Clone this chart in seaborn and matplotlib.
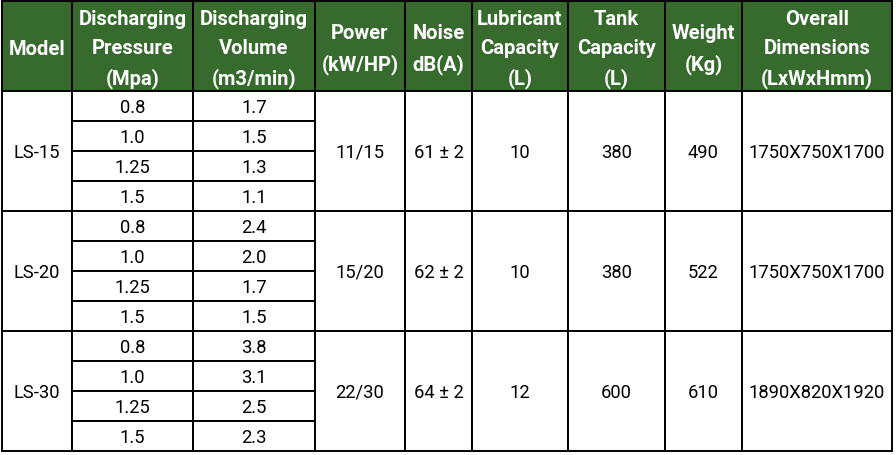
import numpy as np
import matplotlib.pyplot as plt
import seaborn as sns
from matplotlib.patches import Rectangle

sns.set_theme(style="white")
plt.rcParams['font.family'] = ['Roboto', 'DejaVu Sans']

# table contents
headers = ["Model", "Discharging\nPressure\n(Mpa)", "Discharging\nVolume\n(m3/min)",
           "Power\n(kW/HP)", "Noise\ndB(A)", "Lubricant\nCapacity\n(L)",
           "Tank\nCapacity\n(L)", "Weight\n(Kg)", "Overall\nDimensions\n(LxWxHmm)"]
models = ["LS-15", "LS-20", "LS-30"]
pressures = ["0.8", "1.0", "1.25", "1.5"]
volumes = [["1.7", "1.5", "1.3", "1.1"],
           ["2.4", "2.0", "1.7", "1.5"],
           ["3.8", "3.1", "2.5", "2.3"]]
power = ["11/15", "15/20", "22/30"]
noise = ["61 ± 2", "62 ± 2", "64 ± 2"]
lubricant = ["10", "10", "12"]
tank = ["380", "380", "600"]
weight = ["490", "522", "610"]
dims = ["1750X750X1700", "1750X750X1700", "1890X820X1920"]

# layout (pixels)
col_edges = [2, 72, 193, 315, 405, 472, 568, 665, 742, 892]
header_top, header_bot = 2, 92
row_h = 30
green = "#376b2e"
lw = 1.4
body_fs = 13.2

fig = plt.figure(figsize=(8.96, 4.56), dpi=100)
ax = fig.add_axes([0, 0, 1, 1])
ax.set_xlim(0, 896)
ax.set_ylim(456, 0)
ax.axis("off")

# header
for i, h in enumerate(headers):
    x0, x1 = col_edges[i], col_edges[i + 1]
    ax.add_patch(Rectangle((x0, header_top), x1 - x0, header_bot - header_top,
                           facecolor=green, edgecolor="black", lw=lw))
    ax.text((x0 + x1) / 2, (header_top + header_bot) / 2 + 2.5, h, color="white",
            fontsize=14.5, fontweight="bold", ha="center", va="center",
            linespacing=1.66)

# body
per_model = [power, noise, lubricant, tank, weight, dims]
for g, m in enumerate(models):
    gy0 = header_bot + g * 4 * row_h
    gy1 = gy0 + 4 * row_h
    cy = (gy0 + gy1) / 2 + 1
    # model cell
    ax.add_patch(Rectangle((col_edges[0], gy0), col_edges[1] - col_edges[0], gy1 - gy0,
                           facecolor="white", edgecolor="black", lw=lw))
    ax.text((col_edges[0] + col_edges[1]) / 2, cy, m, fontsize=body_fs,
            ha="center", va="center", color="black")
    # pressure / volume sub rows
    for r in range(4):
        ry0 = gy0 + r * row_h
        for c, val in ((1, pressures[r]), (2, volumes[g][r])):
            x0, x1 = col_edges[c], col_edges[c + 1]
            ax.add_patch(Rectangle((x0, ry0), x1 - x0, row_h, facecolor="white",
                                   edgecolor="black", lw=lw))
            ax.text((x0 + x1) / 2, ry0 + row_h / 2 + 1, val, fontsize=body_fs,
                    ha="center", va="center", color="black")
    # merged cells
    for k, col in enumerate(per_model):
        c = k + 3
        x0, x1 = col_edges[c], col_edges[c + 1]
        ax.add_patch(Rectangle((x0, gy0), x1 - x0, gy1 - gy0, facecolor="white",
                               edgecolor="black", lw=lw))
        ax.text((x0 + x1) / 2, cy, col[g], fontsize=body_fs,
                ha="center", va="center", color="black")

fig.savefig("out.png", dpi=100)
